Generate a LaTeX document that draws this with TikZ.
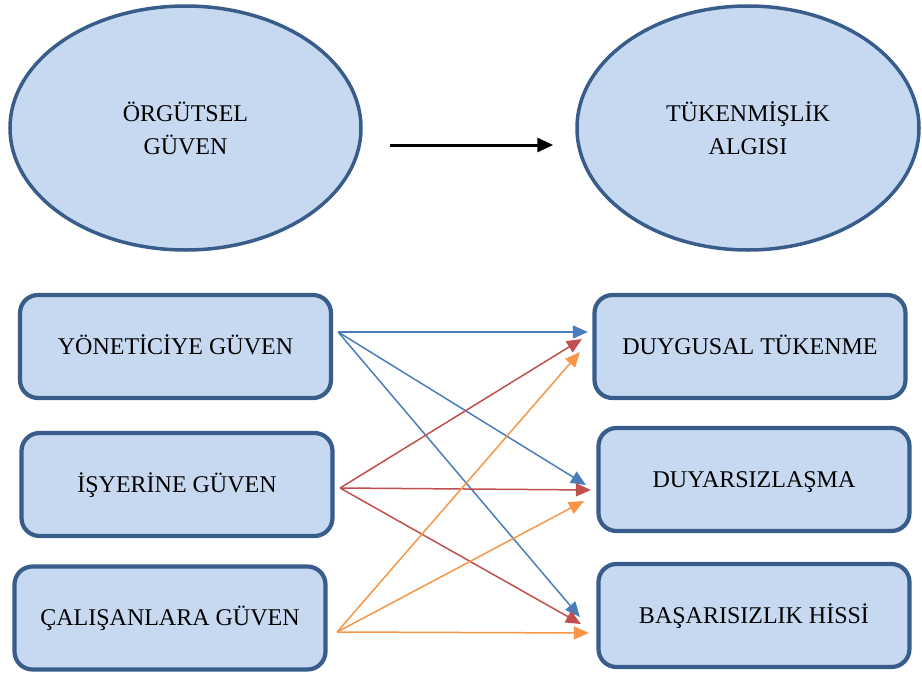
\documentclass[tikz,border=0pt]{standalone}
\usepackage{fontspec}
\setmainfont{Liberation Serif}
\usetikzlibrary{shapes.geometric, arrows.meta}

\definecolor{rahmen}{RGB}{56,93,138}
\definecolor{fuellung}{RGB}{198,217,241}
\definecolor{pfeilblau}{RGB}{74,126,187}
\definecolor{pfeilrot}{RGB}{192,80,77}
\definecolor{pfeilorange}{RGB}{247,150,70}

\tikzset{
	kreis/.style={ellipse, draw=rahmen, fill=fuellung, line width=1.75pt, minimum width=175.5pt, minimum height=122pt, inner sep=0pt, align=center, font=\fontsize{12}{16.5}\selectfont},
	kasten/.style={rectangle, rounded corners=9pt, draw=rahmen, fill=fuellung, line width=2.1pt, minimum width=155.5pt, minimum height=51.5pt, text height=7.9pt, text depth=0pt, font=\fontsize{12}{14}\selectfont},
	pfeil/.style={line width=0.75pt, -{Triangle[length=7.5pt,width=6.5pt]}}
}

\begin{document}
\begin{tikzpicture}[x=0.5pt, y=-0.5pt]
	%\draw [lightgray](0,0) grid (922,675);
	\useasboundingbox (0,0) rectangle (922,675);
	
	% Zeichnet die zwei Ellipsen oben
	\node[kreis] (org) at (185.5,128) {ÖRGÜTSEL\\GÜVEN};
	\node[kreis, minimum width=171pt] (tuk) at (748,128) {TÜKENMİŞLİK\\ALGISI};
	
	% Zeichnet den schwarzen Pfeil zwischen den Ellipsen
	\draw[line width=1.5pt][-{Triangle[length=8pt,width=7pt]}][black] ([shift={(27,17)}]org.east) -- ([shift={(-22,17)}]tuk.west);
	
	% Zeichnet die Kaesten links
	\node[kasten] (yon) at (175.5,346.5) {YÖNETİCİYE GÜVEN};
	\node[kasten] (isy) at (177,484.5) {İŞYERİNE GÜVEN};
	\node[kasten] (cal) at (170,618) {ÇALIŞANLARA GÜVEN};
	
	% Zeichnet die Kaesten rechts
	\node[kasten] (duy) at (750,346.5) {DUYGUSAL TÜKENME};
	\node[kasten] (dys) at (754,479.5) {DUYARSIZLAŞMA};
	\node[kasten] (bas) at (754,615.5) {BAŞARISIZLIK HİSSİ};
	
	% Ursprung der Pfeile an den linken Kaesten
	\coordinate (s_yon) at ([shift={(5,-14.5)}]yon.east);
	\coordinate (s_isy) at ([shift={(5.5,3.5)}]isy.east);
	\coordinate (s_cal) at ([shift={(9.5,14)}]cal.east);
	
	% Zeichnet die blauen Pfeile (Yoneticiye Guven)
	\draw[pfeil][pfeilblau] (s_yon) -- ([shift={(-4.5,-14.5)}]duy.west);
	\draw[pfeil][pfeilblau] (s_yon) -- ([shift={(-10.5,5.5)}]dys.west);
	\draw[pfeil][pfeilblau] (s_yon) -- ([shift={(-16.5,1.5)}]bas.west);
	
	% Zeichnet die roten Pfeile (Isyerine Guven)
	\draw[pfeil][pfeilrot] (s_isy) -- ([shift={(-10.5,-7.5)}]duy.west);
	\draw[pfeil][pfeilrot] (s_isy) -- ([shift={(-5.5,10.5)}]dys.west);
	\draw[pfeil][pfeilrot] (s_isy) -- ([shift={(-15.5,8.5)}]bas.west);
	
	% Zeichnet die orangen Pfeile (Calisanlara Guven)
	\draw[pfeil][pfeilorange] (s_cal) -- ([shift={(-12.5,5.5)}]duy.west);
	\draw[pfeil][pfeilorange] (s_cal) -- ([shift={(-12.5,21.5)}]dys.west);
	\draw[pfeil][pfeilorange] (s_cal) -- ([shift={(-7.5,17.5)}]bas.west);
	
\end{tikzpicture}
\end{document}
